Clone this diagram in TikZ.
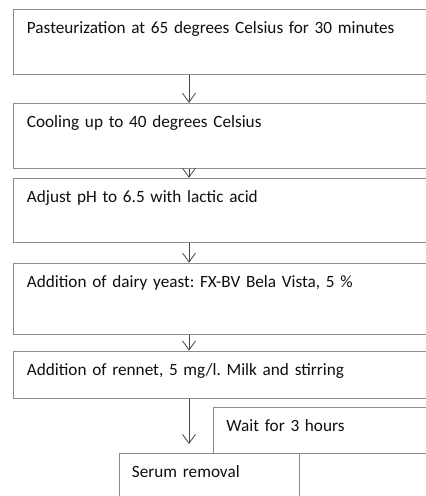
\documentclass[tikz,border=0pt]{standalone}
\usepackage{fontspec}
\setmainfont{Carlito}
\frenchspacing
\usetikzlibrary{arrows.meta, positioning}
\definecolor{linecol}{RGB}{140, 140, 140}
\definecolor{arrcol}{RGB}{70, 70, 70}
\definecolor{txtcol}{RGB}{15, 15, 15}

\begin{document}
\begin{tikzpicture}[
    x=1pt, y=-1pt,
    stepbox/.style={rectangle, draw=linecol, line width=0.9pt, anchor=north west,
                    text width=412pt, inner xsep=14pt, inner ysep=0pt, align=left,
                    text height=24pt, text=txtcol, font=\fontsize{17.2}{20}\selectfont},
    smallbox/.style={stepbox, inner xsep=13pt},
    arr/.style={draw=arrcol, line width=0.8pt, -{Straight Barb[length=9pt, width=13pt, line width=0.8pt]}}
  ]
  \useasboundingbox (0,0) rectangle (426,496);

  % Steps
  \node[stepbox, text depth=41pt] (past) at (12.5,9)
        {Pasteurization at 65 degrees Celsius for 30 minutes};
  \node[stepbox, text depth=41pt, below=28pt of past] (cool)
        {Cooling up to 40 degrees Celsius};
  \node[stepbox, text depth=40pt, below=9pt of cool] (ph)
        {Adjust pH to 6.5 with lactic acid};
  \node[stepbox, text depth=47pt, below=20pt of ph] (yeast)
        {Addition of dairy yeast: FX-BV Bela Vista, 5 \%};
  \node[stepbox, text depth=23pt, below=16pt of yeast] (rennet)
        {Addition of rennet, 5 mg/l. Milk and stirring};

  % Waiting and serum
  \node[smallbox, text width=215pt, text depth=22pt] (wait) at (213,407)
        {Wait for 3 hours};
  \node[smallbox, text width=154.5pt, text depth=40pt] (serum) at (118.5,453)
        {Serum removal};

  % Arrows
  \coordinate (arrx) at (189,0);
  \draw[arr] (past.south -| arrx) -- (cool.north -| arrx);
  \draw[arr] (cool.south -| arrx) -- (ph.north -| arrx);
  \draw[arr] (ph.south -| arrx) -- (yeast.north -| arrx);
  \draw[arr] (yeast.south -| arrx) -- (rennet.north -| arrx);
  \draw[arr, shorten >=9pt] (rennet.south -| arrx) -- (serum.north -| arrx);
\end{tikzpicture}
\end{document}
